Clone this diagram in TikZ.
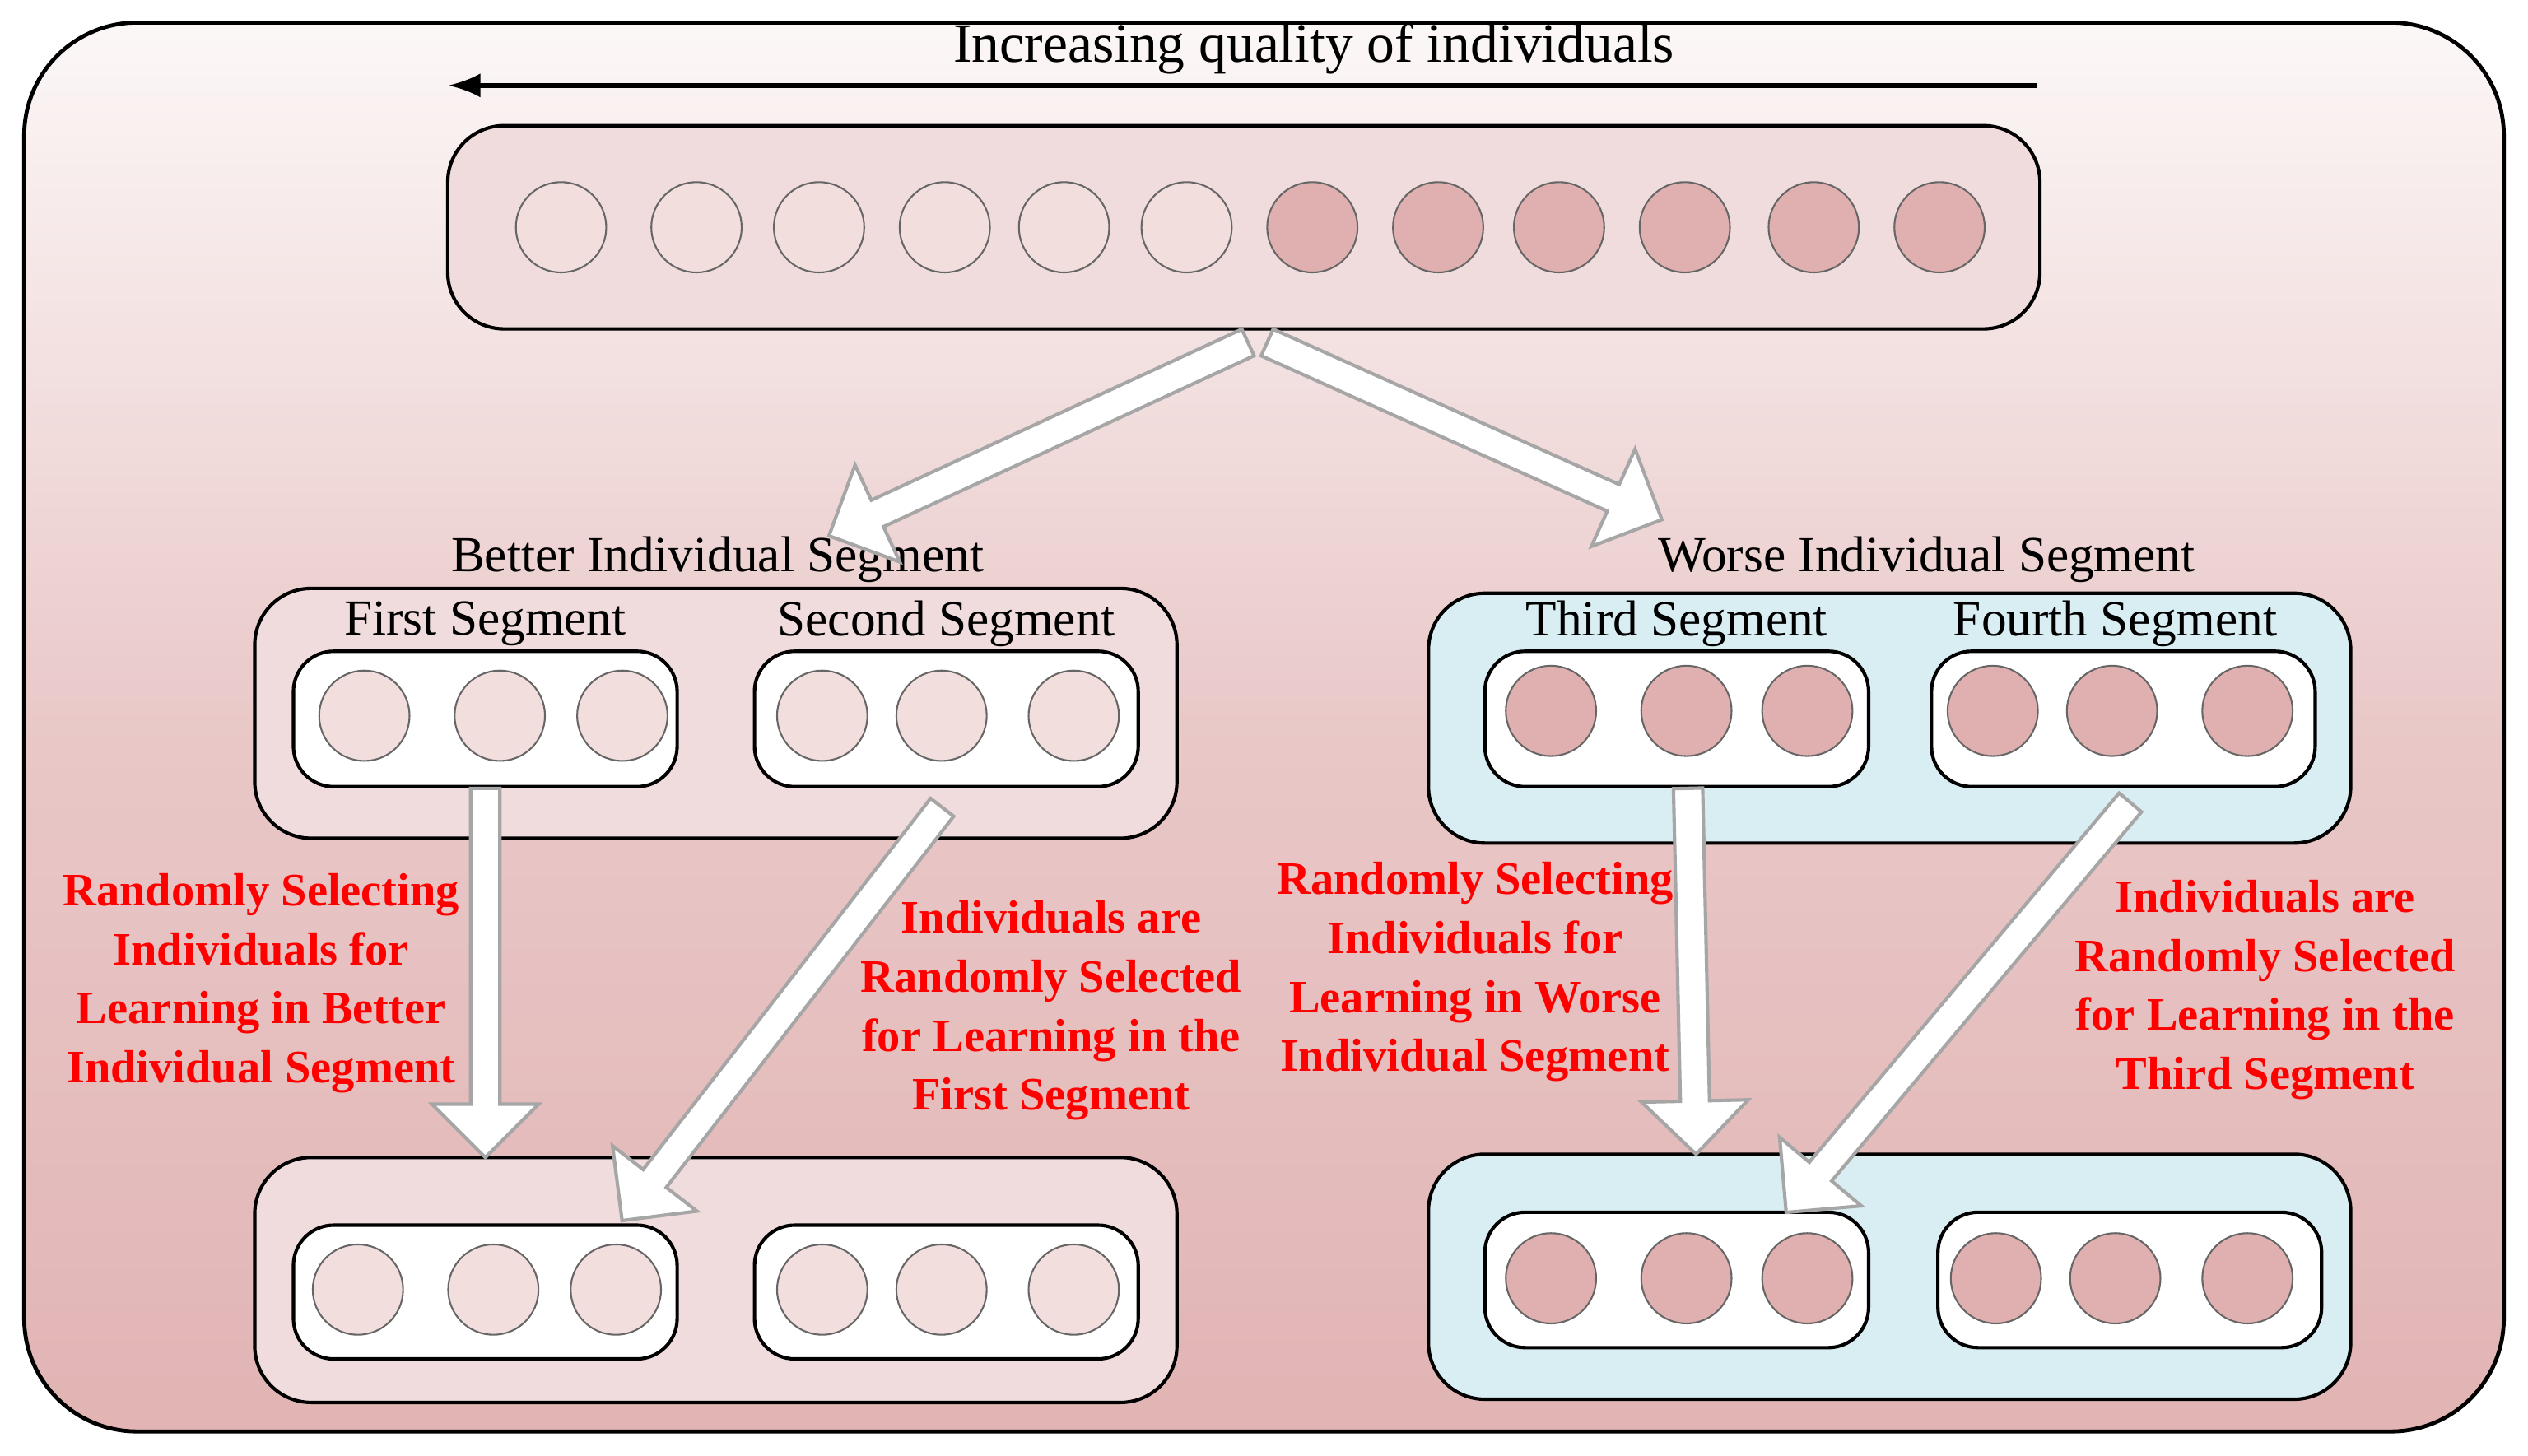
\documentclass[tikz,border=0pt]{standalone}
\usepackage{fontspec}
\setmainfont{Liberation Serif}
\usetikzlibrary{shapes.arrows,calc,arrows.meta}
\definecolor{lightc}{HTML}{F3DEDE}
\definecolor{darkc}{HTML}{E0B0B0}
\definecolor{pinkbox}{HTML}{F0DCDC}
\definecolor{bluebox}{HTML}{D9EEF3}
\tikzset{
  grp/.style={draw=black, rounded corners=0.35cm, line width=0.6pt},
  inner/.style={draw=black, fill=white, rounded corners=0.25cm, line width=0.6pt},
  ind/.style={circle, draw=gray!80!black, line width=0.3pt, minimum size=0.56cm, inner sep=0},
  lab/.style={font=\fontsize{8.9}{11}\selectfont},
  red/.style={text=red, font=\bfseries\fontsize{8.2}{10.4}\selectfont, align=center},
}
\newcommand{\fatarr}[2]{%
  \path let \p1=($(#2)-(#1)$), \n1={veclen(\x1,\y1)}, \n2={atan2(\y1,\x1)} in
    node[single arrow, draw=gray!70, fill=white, line width=0.6pt, inner sep=0.08cm,
         single arrow head extend=0.24cm, minimum height=\n1, rotate=\n2, anchor=tail] at (#1) {};}
\begin{document}
\begin{tikzpicture}[x=0.01cm,y=-0.01cm]
\useasboundingbox (0,0) rectangle (1568,903);
\shade[top color=white!90!darkc, bottom color=darkc!95!white, middle color=darkc!70!white, draw=black, line width=0.7pt, rounded corners=0.7cm] (15,14) rectangle (1553,888);
\node[font=\fontsize{9.8}{12}\selectfont] (title) at (815,30) {Increasing quality of individuals};
\coordinate (aS) at (1263,53); \coordinate (aE) at (278,53);
\draw[-{Latex[length=0.2cm]}, line width=0.8pt] (aS) -- (aE);
% top bar
\node[grp, fill=pinkbox, minimum width=9.87cm, minimum height=1.26cm] (top) at (771.5,141) {};
\foreach \x [count=\i] in {348,432,508,586,660,736}
  \node[ind, fill=lightc] (t\i) at (\x,141) {};
\foreach \x [count=\i] in {814,892,967,1045,1125,1203}
  \node[ind, fill=darkc] (u\i) at (\x,141) {};
% middle groups
\node[lab] (better) at (445,347) {Better Individual Segment};
\node[lab] (worse) at (1195,347) {Worse Individual Segment};
\draw[grp, fill=pinkbox] (158,365) rectangle (730,520);
\draw[grp, fill=bluebox] (886,368) rectangle (1458,523);
\draw[inner] (182,404) rectangle (420,488);
\draw[inner] (468,404) rectangle (706,488);
\draw[inner] (921,404) rectangle (1159,488);
\draw[inner] (1198,404) rectangle (1436,488);
\node[lab] (s1) at (301,387) {First Segment};
\node[lab] (s2) at (587,387) {Second Segment};
\node[lab] (s3) at (1040,387) {Third Segment};
\node[lab] (s4) at (1312,387) {Fourth Segment};
\foreach \x [count=\i] in {226,310,386,510,584,666}
  \node[ind, fill=lightc] (m\i) at (\x,444) {};
\foreach \x [count=\i] in {962,1046,1121,1236,1310,1394}
  \node[ind, fill=darkc] (n\i) at (\x,441) {};
% bottom groups
\draw[grp, fill=pinkbox] (158,718) rectangle (730,870);
\draw[grp, fill=bluebox] (886,716) rectangle (1458,868);
\draw[inner] (182,760) rectangle (420,843);
\draw[inner] (468,760) rectangle (706,843);
\draw[inner] (921,752) rectangle (1159,836);
\draw[inner] (1202,752) rectangle (1440,836);
\foreach \x [count=\i] in {222,306,382,510,584,666}
  \node[ind, fill=lightc] (b\i) at (\x,800) {};
\foreach \x [count=\i] in {962,1046,1121,1238,1312,1394}
  \node[ind, fill=darkc] (c\i) at (\x,793) {};
% fat arrows
\coordinate (f1) at (775,212); \coordinate (f1e) at (515,332);
\coordinate (f2) at (785,212); \coordinate (f2e) at (1030,322);
\coordinate (g1) at (301,488); \coordinate (g1e) at (301,717);
\coordinate (g2) at (585,500); \coordinate (g2e) at (386,757);
\coordinate (g3) at (1047,488); \coordinate (g3e) at (1052,715);
\coordinate (g4) at (1322,497); \coordinate (g4e) at (1108,752);
\fatarr{f1}{f1e}\fatarr{f2}{f2e}
\fatarr{g1}{g1e}\fatarr{g2}{g2e}\fatarr{g3}{g3e}\fatarr{g4}{g4e}
% red texts
\node[red] (r1) at (162,610) {Randomly Selecting\\Individuals for\\Learning in Better\\Individual Segment};
\node[red] (r2) at (652,627) {Individuals are\\Randomly Selected\\for Learning in the\\First Segment};
\node[red] (r3) at (915,603) {Randomly Selecting\\Individuals for\\Learning in Worse\\Individual Segment};
\node[red] (r4) at (1405,614) {Individuals are\\Randomly Selected\\for Learning in the\\Third Segment};
\end{tikzpicture}
\end{document}
